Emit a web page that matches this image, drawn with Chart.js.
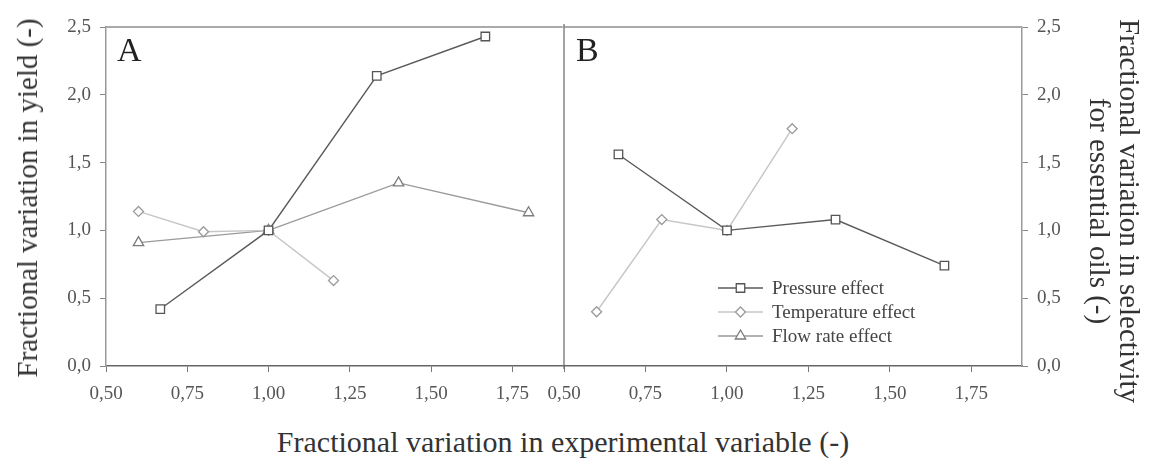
<!DOCTYPE html>
<html>
<head>
<meta charset="utf-8">
<script src="https://cdn.jsdelivr.net/npm/chart.js@4.4.1/dist/chart.umd.min.js"></script>
<style>
  html, body { margin: 0; padding: 0; background: #fff; }
  body { width: 1150px; height: 464px; position: relative; overflow: hidden;
         font-family: "Liberation Serif", "Times New Roman", serif; color: #333; }
  .panel { position: absolute; top: 0; height: 420px; }
  #wrapA { left: 0; width: 570px; }
  #wrapB { left: 520px; width: 560px; }
  .letter { position: absolute; font-size: 34px; color: #222; line-height: 1; }
  .title { position: absolute; font-size: 29px; color: #333; white-space: nowrap;
           line-height: 30px; text-align: center; transform-origin: center; }
  #yTitleLeft { left: 27px; top: 198px; transform: translate(-50%, -50%) rotate(-90deg); }
  #yTitleRight { left: 1115px; top: 211px; transform: translate(-50%, -50%) rotate(90deg); }
  #xTitle { left: 563px; top: 442px; font-size: 30px; transform: translate(-50%, -50%); }
</style>
</head>
<body>
<div class="panel" id="wrapA"><canvas id="chartA"></canvas></div>
<div class="panel" id="wrapB"><canvas id="chartB"></canvas></div>
<div class="letter" style="left:117px; top:33px;">A</div>
<div class="letter" style="left:576px; top:33px;">B</div>
<div class="title" id="yTitleLeft">Fractional variation in yield (-)</div>
<div class="title" id="yTitleRight">Fractional variation in selectivity<br>for essential oils (-)</div>
<div class="title" id="xTitle">Fractional variation in experimental variable (-)</div>

<script>
// tick values
const xTicks = [0.5, 0.75, 1.0, 1.25, 1.5, 1.75];
const yTicks = [0, 0.5, 1.0, 1.5, 2.0, 2.5];

// x positions of each series
const pressureX = [0.667, 1.0, 1.333, 1.667];
const tempX = [0.6, 0.8, 1.0, 1.2];
const flowX = [0.6, 1.0, 1.4, 1.8];

// panel A: yield
const pressureYield = [0.42, 1.0, 2.14, 2.43];
const tempYield = [1.14, 0.99, 1.0, 0.63];
const flowYield = [0.91, 1.0, 1.35, 1.13];

// panel B: selectivity for essential oils
const pressureSel = [1.56, 1.0, 1.08, 0.74];
const tempSel = [0.40, 1.08, 1.0, 1.75];

const seriesNames = ["Pressure effect", "Temperature effect", "Flow rate effect"];

const serif = '"Liberation Serif", "Times New Roman", serif';
const styles = [
  { pointStyle: "rect", line: "#5a5a5a", mark: "#555555", radius: 6 },
  { pointStyle: "rectRot", line: "#c6c6c6", mark: "#9a9a9a", radius: 5 },
  { pointStyle: "triangle", line: "#9a9a9a", mark: "#7c7c7c", radius: 6 }
];

function points(xs, ys) {
  return xs.map((x, i) => ({ x: x, y: ys[i] }));
}

function makeDataset(i, xs, ys) {
  const s = styles[i];
  return {
    label: seriesNames[i],
    data: points(xs, ys),
    showLine: true,
    borderColor: s.line,
    borderWidth: 1.4,
    pointStyle: s.pointStyle,
    pointRadius: s.radius,
    pointBackgroundColor: "#fff",
    pointBorderColor: s.mark,
    pointBorderWidth: 1.3,
    fill: false,
    tension: 0,
    clip: false
  };
}

function xScale() {
  return {
    type: "linear",
    min: 0.5,
    max: 1.905,
    afterBuildTicks: s => { s.ticks = xTicks.map(v => ({ value: v })); },
    afterFit: s => { s.height = 54; },
    grid: { drawOnChartArea: false, drawTicks: true, tickLength: 6, color: "#777", lineWidth: 1 },
    border: { color: "#666", width: 1.5 },
    ticks: {
      font: { family: serif, size: 19 },
      color: "#555",
      padding: 11,
      maxRotation: 0,
      autoSkip: false,
      callback: v => v.toFixed(2).replace(".", ",")
    }
  };
}

function yScale(side, width) {
  return {
    type: "linear",
    position: side,
    min: 0,
    max: 2.5,
    afterBuildTicks: s => { s.ticks = yTicks.map(v => ({ value: v })); },
    afterFit: s => { s.width = width; },
    grid: { drawOnChartArea: false, drawTicks: true, tickLength: 6, color: "#888", lineWidth: 1 },
    border: { color: "#999", width: 1.5 },
    ticks: {
      font: { family: serif, size: 19 },
      color: "#555",
      padding: 9,
      autoSkip: false,
      callback: v => v.toFixed(1).replace(".", ",")
    }
  };
}

// top border + inner side line
const framePlugin = {
  id: "frame",
  beforeDatasetsDraw(chart, args, opts) {
    const ctx = chart.ctx;
    const a = chart.chartArea;
    ctx.save();
    ctx.strokeStyle = "#aaa";
    ctx.lineWidth = 2;
    ctx.beginPath();
    ctx.moveTo(a.left, a.top);
    ctx.lineTo(a.right, a.top);
    ctx.stroke();
    if (opts.side === "left") {
      ctx.strokeStyle = "#666";
      ctx.lineWidth = 1.2;
      ctx.beginPath();
      ctx.moveTo(a.left, a.top - 3);
      ctx.lineTo(a.left, a.bottom + 3);
      ctx.stroke();
    }
    ctx.restore();
  }
};

// legend with line + marker, inside panel B
const legendPlugin = {
  id: "innerLegend",
  afterDraw(chart, args, opts) {
    if (!opts.show) return;
    const ctx = chart.ctx;
    ctx.save();
    seriesNames.forEach((name, i) => {
      const s = styles[i];
      const y = opts.top + i * opts.rowGap;
      ctx.strokeStyle = s.line;
      ctx.lineWidth = 1.4;
      ctx.beginPath();
      ctx.moveTo(opts.left, y);
      ctx.lineTo(opts.left + opts.lineLength, y);
      ctx.stroke();
      ctx.fillStyle = "#fff";
      ctx.strokeStyle = s.mark;
      ctx.lineWidth = 1.3;
      Chart.helpers.drawPoint(ctx, { pointStyle: s.pointStyle, radius: s.radius, rotation: 0, borderWidth: 1.3 },
        opts.left + opts.lineLength / 2, y);
      ctx.fillStyle = "#444";
      ctx.font = "19px " + serif;
      ctx.textBaseline = "middle";
      ctx.fillText(name, opts.left + opts.lineLength + 9, y + 1);
    });
    ctx.restore();
  }
};

new Chart(document.getElementById("chartA"), {
  type: "scatter",
  data: {
    datasets: [
      makeDataset(0, pressureX, pressureYield),
      makeDataset(1, tempX, tempYield),
      makeDataset(2, flowX, flowYield)
    ]
  },
  options: {
    responsive: true,
    maintainAspectRatio: false,
    animation: false,
    events: [],
    layout: { padding: { left: 0, top: 27, right: 6, bottom: 0 } },
    scales: { x: xScale(), y: yScale("left", 106) },
    plugins: {
      legend: { display: false },
      tooltip: { enabled: false },
      frame: { side: "none" },
      innerLegend: { show: false }
    }
  },
  plugins: [framePlugin, legendPlugin]
});

new Chart(document.getElementById("chartB"), {
  type: "scatter",
  data: {
    datasets: [
      makeDataset(0, pressureX, pressureSel),
      makeDataset(1, tempX, tempSel)
    ]
  },
  options: {
    responsive: true,
    maintainAspectRatio: false,
    animation: false,
    events: [],
    layout: { padding: { left: 44, top: 27, right: 0, bottom: 0 } },
    scales: { x: xScale(), y: yScale("right", 58) },
    plugins: {
      legend: { display: false },
      tooltip: { enabled: false },
      frame: { side: "left" },
      innerLegend: { show: true, left: 198, top: 288, rowGap: 24, lineLength: 45 }
    }
  },
  plugins: [framePlugin, legendPlugin]
});
</script>
</body>
</html>
